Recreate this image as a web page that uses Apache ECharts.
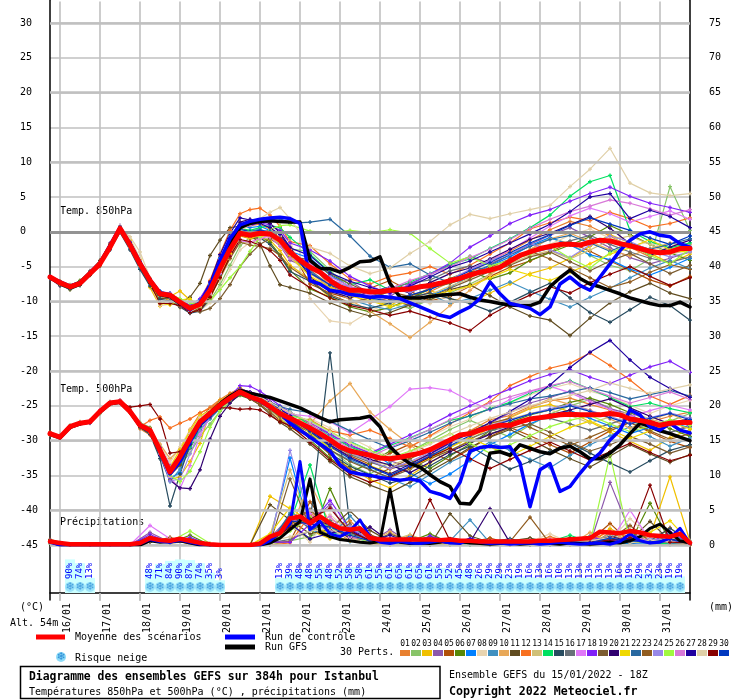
<!DOCTYPE html>
<html>
<head>
<meta charset="utf-8">
<script src="https://cdn.jsdelivr.net/npm/echarts@6/dist/echarts.min.js"></script>
<style>
html,body{margin:0;padding:0;background:#fff;}
#chart{width:740px;height:700px;}
</style>
</head>
<body>
<div id="chart"></div>
<script>
// GEFS ensemble, Istanbul, run 15/01/2022 18Z, 6h steps 0..384h
var dayLabels = ['16/01','17/01','18/01','19/01','20/01','21/01','22/01','23/01','24/01','25/01','26/01','27/01','28/01','29/01','30/01','31/01'];
var memberColors = ['#e88030','#88c468','#f0c000','#8c58ac','#b05008','#588808','#0080ff','#e8d4b0','#4090c0','#e8a858',
  '#604c20','#f87020','#d0c078','#00e060','#284c60','#687078','#e078f8','#8020f8','#7c5c30','#300070',
  '#f0d800','#2868a0','#905c20','#9888e8','#a0f840','#d878d8','#2000a0','#e0d0a8','#880000','#0038c0'];
var thickLevels = [-45,-40,-30,-20,-10,10,20,30];

// thick lines, every 6h (65 values)
var mean850 = [-6.5,-7.3,-7.9,-7.4,-6.0,-4.6,-2.2,0.5,-1.9,-4.6,-7.0,-8.9,-9.1,-10.1,-11.0,-10.4,-8.4,-5.3,-2.5,-0.2,-0.5,-0.2,-0.3,-1.2,-2.9,-4.1,-5.1,-5.8,-7.0,-7.9,-8.4,-8.4,-8.6,-8.6,-8.4,-8.3,-8.2,-7.9,-7.7,-7.4,-7.0,-6.7,-6.2,-5.8,-5.5,-5.1,-4.2,-3.4,-2.9,-2.4,-2.1,-1.8,-1.8,-1.9,-1.5,-1.2,-1.3,-1.7,-2.0,-2.4,-2.8,-3.0,-2.9,-2.4,-2.4];
var ctrl850 = [-6.5,-7.2,-7.8,-7.3,-5.9,-4.5,-2.0,0.6,-1.7,-4.4,-6.9,-8.8,-9.2,-10.2,-11.2,-10.2,-7.8,-4.2,-1.0,1.0,1.5,1.8,2.0,2.1,1.9,1.2,-7.0,-7.5,-8.4,-8.6,-9.0,-9.2,-9.4,-9.3,-9.4,-9.6,-10.2,-10.8,-11.4,-12.0,-12.3,-11.5,-10.8,-9.6,-7.2,-8.9,-10.3,-10.6,-11.0,-11.9,-10.8,-7.5,-6.5,-7.7,-8.4,-6.5,-4.6,-2.7,-1.2,-0.3,0.0,-0.5,-0.7,-1.7,-2.2];
var gfs850 = [-6.6,-7.4,-8.0,-7.5,-6.1,-4.6,-2.1,0.4,-1.9,-4.7,-7.1,-9.0,-9.3,-10.3,-11.1,-10.3,-8.1,-4.8,-1.8,0.6,1.2,1.5,1.6,1.5,1.4,1.4,-4.1,-5.3,-5.3,-5.8,-5.1,-4.3,-4.2,-3.6,-7.4,-9.4,-9.5,-9.5,-9.3,-9.1,-9.0,-8.9,-9.4,-9.8,-10.0,-10.3,-10.5,-10.6,-10.6,-10.1,-7.9,-6.6,-5.5,-6.7,-7.5,-7.9,-8.4,-8.9,-9.5,-9.9,-10.3,-10.6,-10.6,-10.1,-10.8];
var mean500 = [-29.0,-29.5,-28.0,-27.5,-27.3,-25.8,-24.6,-24.4,-25.8,-27.8,-28.5,-31.4,-34.5,-32.3,-29.7,-27.3,-26.1,-24.9,-23.9,-23.0,-23.7,-24.2,-25.1,-26.1,-26.8,-27.5,-28.2,-29.0,-29.9,-30.9,-31.5,-31.8,-32.1,-32.5,-32.6,-32.4,-32.1,-31.8,-31.3,-30.6,-29.9,-29.2,-29.0,-28.5,-28.1,-27.8,-27.8,-27.3,-26.9,-26.7,-26.5,-26.3,-26.2,-26.3,-26.3,-26.3,-26.1,-26.3,-26.9,-27.1,-27.4,-27.8,-27.5,-27.4,-27.4];
var ctrl500 = [-29.0,-29.5,-28.0,-27.5,-27.3,-25.8,-24.6,-24.4,-25.8,-27.8,-28.5,-31.4,-34.8,-33.0,-30.2,-27.6,-26.3,-25.0,-24.0,-23.1,-23.8,-24.3,-25.2,-26.0,-27.5,-28.5,-29.5,-30.5,-31.5,-33.5,-34.5,-34.8,-35.0,-35.3,-35.5,-35.7,-35.5,-35.8,-37.3,-37.7,-38.3,-36.0,-31.5,-31.0,-30.8,-31.0,-30.9,-33.2,-39.5,-34.2,-33.3,-37.3,-36.6,-34.7,-33.0,-31.8,-29.9,-28.5,-25.6,-26.3,-28.0,-28.5,-27.5,-28.5,-28.9];
var gfs500 = [-29.1,-29.6,-28.1,-27.6,-27.3,-25.9,-24.7,-24.5,-25.9,-27.9,-28.6,-31.5,-34.6,-32.4,-29.8,-27.3,-26.0,-24.7,-23.6,-22.8,-23.2,-23.5,-23.8,-24.3,-24.8,-25.3,-26.0,-26.7,-27.3,-27.0,-26.9,-26.8,-26.5,-28.0,-30.9,-32.3,-33.3,-33.8,-34.9,-35.9,-36.6,-39.0,-39.1,-37.1,-31.8,-31.6,-32.1,-30.6,-31.1,-31.6,-31.9,-31.1,-30.8,-31.6,-32.6,-32.6,-31.8,-30.6,-29.0,-27.5,-28.0,-28.6,-29.0,-29.5,-30.0];
var meanPrecip = [0.5,0.3,0.1,0.1,0.1,0.1,0.1,0.1,0.1,0.3,1.0,0.7,0.6,0.9,0.6,0.3,0.1,0.0,0.0,0.0,0.0,0.2,1.2,1.7,3.8,4.1,3.1,4.1,3.1,2.4,2.2,2.4,1.0,0.8,0.8,0.8,0.8,0.8,0.8,0.7,0.8,0.6,0.6,0.5,0.5,0.5,0.5,0.5,0.5,0.6,0.6,0.7,0.8,0.9,1.0,1.9,1.8,1.7,2.0,1.8,1.4,1.3,1.2,1.6,0.3];
var ctrlPrecip = [0.4,0,0,0,0,0,0,0,0,0.2,0.8,0.5,0.4,0.7,0.4,0.1,0,0,0,0,0,0,0.6,1.8,3.0,12.0,2.2,3.4,1.6,1.2,2.0,3.6,1.2,0.4,0.2,0.5,0.3,0.2,0.4,0.6,0.3,0.2,0.9,0.4,0.2,0.3,0.1,0.2,0.3,0.1,0.2,0.4,0.2,0.1,0.2,0.3,0.1,0.5,1.6,0.6,0.3,0.4,1.0,2.4,0.2];
var gfsPrecip = [0.5,0,0,0,0,0,0,0,0,0,0.6,0.4,0.5,0.6,0.3,0,0,0,0,0,0,0,0.3,1.0,2.2,3.4,9.5,1.8,1.2,0.8,0.6,0.4,0.3,0.5,8.0,0.4,0.2,0.3,0.2,0.4,0.9,0.5,0.3,0.2,0.1,0.2,0.3,0.1,0.2,0.4,0.2,0.1,0.3,0.2,0.1,0.2,0.4,0.3,0.6,1.2,2.4,3.0,1.8,0.6,0.3];

// snow risk (%) per 6h step
var snowRisk = [null,null,90,74,13,null,null,null,null,null,48,71,84,90,87,74,35,3,null,null,null,null,null,13,39,48,48,55,48,52,58,58,61,55,61,65,61,65,61,55,52,45,48,26,29,29,23,19,16,13,16,10,13,13,13,13,13,16,19,29,32,23,19,19,null];

// members 850hPa: 6h steps 0..144h, then 12h steps 156..384h
var t850Early = [
[-6.4,-7.6,-8.1,-7.5,-6.2,-4.8,-2.3,0.6,-1.7,-4.4,-6.8,-8.7,-9.0,-10.3,-11.3,-10.6,-8.0,-4.6,-1.7,0.6,0.9,1.1,0.4,-0.9,-3.2],
[-6.6,-7.2,-7.6,-7.2,-5.8,-4.4,-2.0,0.2,-2.1,-4.9,-7.3,-9.1,-9.5,-10.7,-11.5,-11.2,-9.9,-7.6,-4.8,-2.0,-0.8,-0.4,-0.1,-0.7,-2.5],
[-6.5,-7.4,-8.3,-7.6,-5.9,-4.3,-1.7,0.4,-1.2,-3.9,-8.0,-10.7,-9.3,-8.5,-9.8,-10.5,-9.0,-6.2,-3.3,-0.6,-1.0,-0.9,-1.2,-2.7,-4.8],
[-6.7,-7.8,-7.7,-7.1,-5.6,-4.2,-1.6,0.9,-1.4,-4.2,-6.9,-8.6,-9.2,-9.9,-10.8,-10.0,-7.6,-4.0,-1.5,0.2,-0.2,0.3,-0.6,-2.0,-4.1],
[-6.4,-7.1,-8.0,-7.3,-6.1,-4.9,-2.4,0.3,-2.0,-4.8,-7.1,-8.8,-8.9,-10.0,-11.1,-10.9,-9.3,-6.4,-3.0,-0.5,-0.9,-0.1,0.2,-0.8,-2.4],
[-6.3,-7.3,-7.8,-7.0,-5.7,-4.5,-2.1,0.5,-1.9,-4.7,-7.2,-9.0,-9.3,-10.5,-11.6,-11.0,-8.8,-5.5,-2.2,0.1,-0.4,-0.6,-1.5,-3.3,-5.5],
[-6.5,-7.5,-7.9,-7.2,-5.9,-4.6,-2.2,0.4,-1.6,-4.3,-6.7,-8.5,-9.0,-9.8,-10.6,-9.7,-7.5,-3.8,-0.7,0.9,0.6,0.8,0.2,-1.0,-2.8],
[-6.6,-7.4,-8.1,-7.5,-6.3,-4.7,-1.9,0.8,-0.9,-3.8,-7.5,-10.6,-10.4,-10.3,-10.9,-11.3,-10.2,-8.1,-5.4,-2.6,-1.5,-0.9,-0.4,-0.6,-1.2],
[-6.4,-7.2,-8.0,-7.6,-6.2,-4.6,-2.5,0.1,-2.4,-5.2,-7.6,-9.3,-9.6,-10.6,-11.4,-10.5,-8.3,-5.0,-2.1,0.3,0.1,0.4,-0.2,-1.6,-3.6],
[-6.5,-7.3,-7.7,-7.3,-6.0,-4.4,-2.0,0.6,-1.8,-4.5,-7.0,-9.2,-9.8,-10.9,-11.2,-10.3,-8.6,-5.6,-2.7,-0.4,-0.9,-0.7,-0.5,-1.1,-2.6],
[-6.6,-7.7,-8.2,-7.4,-5.8,-4.1,-1.8,0.7,-1.6,-4.4,-7.4,-9.6,-9.5,-10.2,-9.4,-7.4,-3.4,-1.2,0.6,0.8,-0.3,-1.8,-4.9,-7.6,-8.0],
[-6.4,-7.3,-7.9,-7.5,-6.1,-4.7,-2.1,0.5,-1.7,-4.6,-6.9,-8.8,-9.2,-10.2,-11.0,-9.9,-7.0,-3.2,0.2,2.6,3.2,3.4,2.4,0.8,-1.4],
[-6.5,-7.4,-8.0,-7.3,-6.0,-4.5,-2.3,0.2,-2.2,-4.9,-7.1,-9.0,-9.4,-10.4,-11.2,-10.8,-9.1,-6.8,-3.9,-1.4,-1.6,-1.1,-0.9,-1.8,-3.7],
[-6.3,-7.2,-7.8,-7.4,-6.1,-4.6,-2.0,0.4,-1.9,-4.6,-7.0,-8.7,-9.0,-10.0,-10.8,-10.2,-8.0,-4.7,-1.6,0.5,0.2,0.6,0.9,0.6,-0.8],
[-6.7,-7.6,-8.3,-7.7,-6.2,-4.8,-2.6,-0.1,-2.6,-5.4,-7.8,-9.7,-9.9,-10.8,-11.7,-11.4,-9.6,-6.2,-2.8,-0.3,-0.8,-0.9,-1.8,-3.5,-5.7],
[-6.5,-7.3,-7.9,-7.4,-6.0,-4.5,-2.1,0.4,-1.8,-4.5,-7.0,-8.8,-9.0,-10.1,-10.9,-10.3,-8.2,-5.1,-2.3,-0.1,-0.4,-0.2,-0.4,-1.3,-3.0],
[-6.4,-7.4,-7.8,-7.2,-5.9,-4.4,-2.0,0.5,-1.7,-4.4,-6.9,-8.9,-9.3,-10.3,-11.1,-10.6,-8.9,-6.0,-3.4,-1.3,-1.5,-1.0,-0.6,-1.4,-3.1],
[-6.6,-7.5,-8.0,-7.5,-6.0,-4.6,-2.2,0.6,-1.6,-4.3,-6.8,-8.6,-8.8,-9.8,-10.6,-9.6,-7.3,-4.2,-1.3,0.7,0.9,1.3,1.0,0.2,-1.6],
[-6.5,-7.3,-8.0,-7.3,-5.9,-4.6,-2.1,0.3,-1.9,-4.7,-7.2,-9.0,-9.4,-10.5,-11.3,-11.5,-11.0,-9.6,-7.6,-5.0,-3.2,-1.8,-1.0,-1.9,-3.6],
[-6.4,-7.2,-7.8,-7.4,-6.1,-4.7,-2.2,0.5,-1.8,-4.6,-7.1,-9.0,-9.3,-10.3,-11.2,-10.4,-7.9,-4.1,-0.9,1.4,1.8,1.6,1.2,-0.1,-2.2],
[-6.6,-7.5,-8.1,-7.5,-6.0,-4.5,-2.0,0.4,-1.8,-4.5,-7.3,-10.2,-10.5,-9.8,-9.6,-10.8,-9.5,-6.6,-3.1,-0.4,-0.9,-0.6,-0.7,-1.6,-3.4],
[-6.5,-7.3,-7.9,-7.2,-5.8,-4.4,-2.0,0.6,-1.6,-4.3,-6.8,-8.6,-8.9,-10.0,-10.7,-9.9,-7.7,-4.4,-1.3,0.9,1.2,1.4,1.8,1.9,1.2],
[-6.4,-7.4,-8.0,-7.6,-6.2,-4.8,-2.4,0.2,-2.0,-4.8,-7.2,-9.1,-9.4,-10.6,-11.4,-11.0,-9.3,-6.5,-3.8,-1.5,-1.9,-2.1,-2.4,-3.4,-5.1],
[-6.5,-7.3,-7.8,-7.3,-5.9,-4.5,-2.1,0.5,-1.8,-4.6,-7.0,-8.9,-9.1,-10.1,-11.0,-10.5,-8.6,-5.5,-2.6,-0.3,-0.6,-0.3,-0.2,-1.0,-2.7],
[-6.6,-7.4,-8.0,-7.5,-6.1,-4.6,-2.1,0.4,-1.9,-4.7,-7.1,-8.9,-9.0,-9.6,-10.2,-10.6,-9.9,-8.3,-6.6,-5.0,-2.8,-0.8,0.3,0.9,1.0],
[-6.5,-7.4,-7.9,-7.3,-6.0,-4.5,-2.0,0.6,-1.7,-4.5,-6.9,-8.8,-9.2,-10.2,-11.1,-10.4,-8.5,-5.4,-2.4,-0.1,-0.5,-0.4,-0.8,-2.0,-3.8],
[-6.4,-7.3,-8.0,-7.5,-6.1,-4.6,-2.2,0.4,-1.9,-4.6,-7.0,-8.9,-9.2,-10.3,-11.3,-10.1,-7.2,-3.3,-0.2,2.0,1.7,1.2,0.6,-0.4,-2.3],
[-6.5,-7.3,-7.9,-7.4,-6.0,-4.6,-2.1,0.5,-0.7,-2.9,-6.6,-8.9,-9.4,-10.6,-11.5,-10.7,-8.7,-5.7,-2.6,0.1,1.0,1.9,2.8,3.5,1.9],
[-6.5,-7.4,-8.0,-7.4,-6.0,-4.6,-2.2,0.4,-1.8,-4.6,-7.4,-10.3,-10.3,-10.6,-11.6,-11.2,-9.4,-6.6,-3.5,-1.1,-1.4,-1.9,-2.7,-4.1,-6.2],
[-6.5,-7.3,-7.9,-7.3,-5.9,-4.5,-2.0,0.6,-1.6,-4.4,-6.8,-8.7,-9.1,-10.2,-11.1,-10.3,-8.2,-5.0,-2.0,0.4,0.0,0.2,0.0,-1.0,-3.0]];
var t850Late = [
[-4.5,-7.8,-9.0,-10.2,-9.5,-9.8,-8.6,-7.2,-5.9,-4.1,-2.8,-1.2,0.3,1.5,0.8,-0.6,-2.2,-3.6,-2.5,-1.8],
[-2.8,-5.5,-8.2,-9.6,-10.4,-11.0,-9.7,-8.8,-7.5,-6.1,-4.0,-2.6,-0.9,-1.7,-3.4,-4.8,-5.6,-3.9,6.5,0.2],
[-6.8,-9.5,-10.3,-9.8,-10.6,-9.1,-8.4,-9.6,-10.2,-8.8,-7.5,-6.0,-5.2,-3.8,-2.1,-0.4,-1.6,-3.1,-4.5,-3.2],
[-5.2,-6.6,-7.1,-8.9,-9.3,-7.4,-6.2,-4.8,-3.5,-4.6,-3.3,-1.8,-0.5,0.6,-0.8,-2.3,-3.7,-4.6,-3.8,-2.9],
[-7.5,-8.8,-9.6,-8.1,-7.0,-8.5,-9.9,-9.3,-7.8,-6.4,-5.1,-4.2,-2.9,-1.5,-2.8,-4.2,-5.5,-6.9,-7.8,-6.4],
[-8.2,-9.4,-10.8,-11.5,-10.9,-9.6,-8.2,-6.7,-5.6,-6.8,-5.9,-4.1,-3.0,-1.9,-0.7,0.9,-0.4,-1.8,-3.0,-4.1],
[-3.8,-6.2,-7.9,-8.6,-9.4,-10.1,-9.2,-8.0,-6.3,-4.9,-3.6,-2.0,-0.8,-1.9,-3.3,-4.0,-5.4,-6.2,-5.1,-3.8],
[-9.6,-12.8,-13.2,-11.4,-10.2,-9.6,-10.3,-9.1,-7.7,-6.2,-4.4,-3.0,-1.8,-0.5,0.4,-0.9,-2.0,-1.5,-2.8,-1.9],
[-5.6,-8.1,-9.7,-10.6,-11.2,-10.4,-9.0,-10.3,-9.6,-8.4,-7.2,-8.5,-9.7,-10.8,-9.4,-8.1,-6.6,-5.2,-4.1,-5.3],
[-6.0,-7.9,-9.8,-11.4,-13.2,-15.2,-13.0,-10.6,-8.4,-6.1,-4.3,-2.5,-1.0,-0.2,-1.4,-2.6,-3.5,-2.4,-1.6,-2.2],
[-8.8,-10.2,-11.3,-12.1,-11.6,-10.5,-9.8,-8.3,-7.6,-9.2,-10.8,-12.1,-12.7,-14.9,-12.4,-10.2,-8.6,-7.4,-8.8,-9.6],
[-2.0,-4.6,-6.8,-7.5,-6.4,-5.9,-5.0,-6.1,-4.8,-3.2,-1.6,0.4,1.3,2.1,1.6,2.8,1.9,0.7,1.2,2.0],
[-6.3,-8.4,-9.1,-8.2,-9.6,-10.3,-9.0,-7.8,-6.7,-5.0,-4.6,-3.4,-2.7,-3.9,-2.6,-1.2,-0.6,-1.8,-3.2,-2.6],
[-3.2,-5.8,-7.6,-6.9,-8.4,-7.2,-6.0,-4.7,-3.9,-2.4,-1.0,0.6,2.4,5.1,7.2,8.1,0.2,-1.4,-2.3,-1.6],
[-7.1,-9.2,-10.4,-11.0,-10.2,-9.4,-8.8,-9.6,-10.3,-11.4,-10.1,-8.7,-7.4,-9.5,-11.6,-13.0,-11.2,-9.4,-10.6,-12.7],
[-5.5,-7.7,-8.6,-9.3,-8.0,-7.4,-6.9,-5.6,-4.9,-5.6,-4.2,-3.1,-2.4,-1.3,-0.5,-1.8,-2.9,-3.8,-4.4,-3.6],
[-4.6,-6.9,-8.3,-9.1,-8.5,-7.6,-8.2,-7.0,-5.5,-4.2,-2.6,-0.9,0.8,2.3,3.4,2.6,1.4,2.2,3.0,1.8],
[-2.6,-4.2,-6.4,-7.8,-8.9,-7.6,-6.1,-4.5,-2.2,-0.6,1.2,2.4,3.2,4.4,5.5,6.4,5.1,4.1,3.5,2.8],
[-4.0,-6.1,-7.5,-8.8,-9.7,-10.6,-9.4,-8.1,-6.9,-5.7,-4.8,-3.6,-2.9,-4.3,-5.6,-4.2,-3.1,-4.6,-6.0,-4.8],
[-6.5,-8.6,-9.4,-8.7,-7.9,-8.8,-7.3,-6.0,-5.2,-3.9,-2.5,-1.1,-0.2,1.0,2.2,0.5,-1.7,-3.4,-2.2,-1.2],
[-6.4,-8.0,-9.2,-9.9,-10.8,-10.0,-9.2,-8.5,-7.8,-6.6,-5.4,-6.2,-7.0,-5.8,-4.6,-3.2,-2.3,-1.1,-2.6,-3.0],
[1.4,1.8,-0.6,-3.5,-5.1,-4.6,-6.2,-7.3,-6.0,-4.8,-3.3,-2.1,-1.1,-0.5,-1.6,-2.8,-1.6,-2.5,-1.8,-1.0],
[-7.0,-9.0,-10.2,-9.5,-8.6,-9.3,-8.1,-7.4,-6.5,-5.1,-3.9,-2.8,-3.9,-5.2,-6.6,-8.0,-7.2,-5.8,-4.7,-5.4],
[-5.0,-6.8,-8.0,-8.9,-7.9,-8.7,-7.6,-6.9,-5.4,-4.1,-3.2,-1.7,-2.6,-3.7,-1.9,-0.6,-1.4,-2.7,-3.6,-2.9],
[0.1,-0.2,0.2,-0.1,0.3,-0.2,-2.4,-4.5,-3.6,-4.9,-4.1,-3.2,-2.0,-3.8,-5.2,-3.0,-1.8,-3.4,-4.6,-2.5],
[-4.8,-6.5,-7.8,-9.1,-8.2,-7.0,-6.1,-5.0,-3.7,-2.5,-1.1,0.5,1.8,2.9,3.7,4.6,4.1,3.3,2.4,3.2],
[-3.4,-5.9,-7.1,-8.0,-8.7,-7.8,-6.5,-5.1,-4.2,-2.9,-1.6,-0.3,1.1,2.9,5.0,5.5,1.9,3.1,2.2,0.6],
[-2.2,-3.1,-4.9,-6.0,-5.2,-3.1,-1.4,1.0,2.5,1.9,2.6,3.2,3.8,6.5,9.0,12.0,7.0,5.6,5.2,5.5],
[-8.0,-9.5,-10.6,-11.2,-12.0,-11.4,-12.3,-13.1,-14.2,-12.0,-10.4,-9.1,-7.9,-8.8,-7.3,-6.1,-5.0,-6.4,-7.7,-6.6],
[-5.9,-7.6,-8.8,-9.5,-10.0,-9.1,-8.3,-7.0,-5.6,-4.4,-3.0,-1.6,-0.4,0.9,2.0,1.1,0.2,-0.9,-1.8,-0.6]];

// members 500hPa: same layout
var t500Early = [
[-29.1,-29.7,-28.2,-27.4,-27.1,-25.6,-24.8,-24.2,-26.0,-28.3,-29.2,-32.0,-35.1,-31.6,-28.4,-26.1,-25.2,-24.1,-23.2,-22.5,-23.1,-23.6,-24.5,-25.4,-26.0],
[-28.9,-29.4,-27.8,-27.6,-27.5,-26.1,-24.5,-24.6,-25.5,-27.4,-28.1,-30.8,-33.9,-33.5,-31.8,-29.4,-27.6,-25.8,-24.5,-23.4,-23.9,-24.5,-25.6,-26.8,-27.9],
[-29.2,-29.6,-28.1,-27.3,-27.2,-25.7,-24.7,-24.3,-25.9,-27.9,-28.8,-31.9,-35.6,-35.2,-33.0,-30.4,-25.9,-24.2,-23.5,-22.4,-23.2,-24.0,-25.3,-26.9,-28.1],
[-29.0,-29.4,-28.0,-27.6,-27.4,-25.9,-24.5,-24.5,-25.7,-27.7,-28.4,-31.1,-34.2,-32.8,-30.2,-27.6,-26.3,-25.0,-24.0,-23.2,-23.6,-24.1,-25.0,-25.9,-26.6],
[-28.8,-29.3,-27.9,-27.4,-27.2,-25.6,-24.4,-24.2,-25.6,-27.6,-28.2,-31.5,-34.8,-31.9,-29.0,-26.6,-25.5,-24.4,-23.4,-22.7,-23.5,-24.3,-25.4,-26.5,-27.3],
[-29.1,-29.6,-28.1,-27.5,-27.3,-25.8,-24.7,-24.5,-25.9,-27.9,-28.6,-31.2,-34.0,-33.3,-31.1,-28.5,-26.8,-25.3,-24.3,-23.5,-24.0,-24.4,-25.2,-26.0,-26.5],
[-29.0,-29.5,-28.0,-27.5,-27.3,-25.8,-24.6,-24.4,-25.8,-27.8,-28.4,-31.8,-35.4,-34.6,-29.6,-26.8,-25.8,-24.6,-23.7,-22.9,-23.4,-23.9,-24.6,-25.6,-26.3],
[-28.9,-29.4,-27.9,-27.4,-27.2,-25.7,-24.5,-24.3,-25.7,-27.7,-28.5,-30.6,-33.2,-30.9,-28.5,-26.6,-25.8,-24.8,-23.8,-22.8,-23.5,-24.3,-25.5,-26.7,-27.6],
[-29.1,-29.6,-28.1,-27.6,-27.4,-25.9,-24.7,-24.5,-25.9,-28.0,-29.0,-32.2,-35.9,-34.1,-31.0,-28.4,-26.9,-25.4,-24.2,-23.3,-23.9,-24.2,-24.8,-25.6,-26.2],
[-29.0,-29.5,-28.0,-27.5,-27.3,-25.8,-24.6,-24.4,-25.8,-27.8,-28.6,-30.5,-32.6,-31.2,-28.9,-26.8,-25.9,-24.7,-23.6,-22.6,-23.3,-23.8,-24.7,-25.8,-26.6],
[-29.0,-29.5,-28.0,-27.5,-27.3,-25.7,-24.5,-24.4,-25.8,-27.8,-28.6,-31.6,-35.0,-33.5,-30.6,-27.9,-26.4,-25.1,-24.1,-23.2,-24.0,-24.9,-26.2,-27.4,-28.3],
[-29.0,-29.6,-28.0,-27.5,-27.3,-25.8,-24.6,-24.4,-26.0,-28.0,-27.1,-26.6,-28.2,-27.5,-26.9,-26.0,-25.4,-24.3,-23.5,-22.8,-23.4,-24.0,-25.0,-26.1,-26.9],
[-29.1,-29.5,-28.1,-27.5,-27.3,-25.8,-24.6,-24.4,-25.7,-27.6,-28.3,-31.3,-34.6,-32.5,-30.0,-27.6,-26.3,-25.1,-24.0,-23.1,-23.7,-24.2,-25.0,-26.0,-26.7],
[-29.0,-29.4,-27.9,-27.4,-27.2,-25.7,-24.5,-24.3,-25.7,-27.6,-28.3,-31.6,-34.9,-33.0,-30.8,-28.1,-26.5,-25.2,-24.0,-23.0,-23.5,-23.8,-24.4,-25.2,-25.8],
[-29.1,-29.6,-28.1,-27.6,-27.4,-25.9,-24.7,-24.5,-25.9,-28.1,-29.1,-32.6,-39.4,-34.8,-30.6,-27.4,-25.8,-24.5,-23.6,-23.0,-23.6,-24.2,-25.1,-26.2,-27.0],
[-29.0,-29.5,-28.0,-27.5,-27.3,-25.8,-24.6,-24.4,-25.8,-27.8,-28.5,-31.4,-34.3,-32.0,-29.5,-27.2,-26.0,-24.8,-23.8,-23.0,-23.6,-24.1,-25.0,-26.0,-26.7],
[-28.9,-29.4,-27.9,-27.4,-27.1,-25.6,-24.5,-24.2,-25.6,-27.6,-28.4,-31.7,-35.3,-36.9,-33.6,-29.2,-26.6,-25.0,-23.8,-22.6,-23.0,-23.4,-24.3,-25.4,-26.2],
[-29.1,-29.6,-28.1,-27.6,-27.4,-25.9,-24.7,-24.5,-25.9,-27.9,-28.6,-31.0,-33.6,-32.2,-29.9,-27.5,-26.2,-24.9,-23.7,-22.1,-22.2,-22.9,-23.9,-25.0,-25.9],
[-29.0,-29.5,-28.0,-27.5,-27.3,-25.8,-24.6,-24.4,-25.8,-27.8,-28.5,-31.3,-34.4,-32.4,-29.8,-27.4,-26.2,-25.0,-24.0,-23.2,-23.9,-24.5,-25.5,-26.6,-27.4],
[-28.9,-29.5,-28.0,-27.5,-27.3,-25.8,-24.6,-24.4,-25.8,-27.8,-28.7,-32.1,-35.7,-36.8,-36.9,-34.2,-29.8,-26.5,-24.6,-23.3,-23.8,-24.2,-25.0,-25.9,-26.6],
[-29.0,-29.4,-28.0,-27.5,-27.2,-25.8,-24.6,-24.4,-25.8,-27.8,-28.4,-31.2,-33.8,-31.3,-28.6,-26.4,-25.7,-24.5,-23.5,-22.9,-23.3,-23.6,-24.8,-25.9,-26.5],
[-29.1,-29.5,-28.0,-27.5,-27.3,-25.8,-24.6,-24.4,-25.8,-27.8,-28.6,-31.5,-34.7,-32.6,-30.0,-27.5,-26.2,-24.9,-23.8,-22.9,-23.4,-23.9,-24.5,-25.1,-25.5],
[-29.0,-29.5,-28.1,-27.5,-27.3,-25.8,-24.6,-24.4,-25.8,-27.8,-28.5,-31.4,-34.5,-32.1,-29.5,-27.1,-26.0,-24.9,-24.0,-23.3,-24.0,-24.8,-25.9,-27.1,-28.0],
[-29.0,-29.5,-28.0,-27.5,-27.3,-25.8,-24.6,-24.4,-25.8,-27.8,-28.6,-31.9,-35.8,-35.5,-31.9,-28.6,-26.6,-25.0,-23.9,-22.8,-23.4,-23.9,-24.9,-25.8,-26.5],
[-29.0,-29.5,-28.0,-27.5,-27.3,-25.8,-24.6,-24.4,-25.8,-27.8,-28.5,-31.6,-35.0,-35.9,-34.4,-31.6,-28.1,-25.7,-24.1,-23.1,-23.6,-24.0,-24.8,-25.7,-26.4],
[-29.0,-29.5,-28.0,-27.5,-27.3,-25.8,-24.6,-24.4,-25.8,-27.8,-28.5,-31.3,-34.3,-32.1,-29.6,-27.3,-26.1,-24.8,-23.7,-22.7,-23.3,-23.9,-24.9,-26.0,-26.9],
[-29.0,-29.5,-28.0,-27.5,-27.3,-25.8,-24.6,-24.4,-25.8,-27.8,-28.5,-31.5,-34.6,-32.9,-30.5,-27.9,-26.6,-25.2,-24.0,-22.6,-23.0,-23.5,-24.4,-25.5,-26.4],
[-29.0,-29.5,-28.0,-27.5,-27.3,-25.8,-24.6,-24.4,-25.8,-27.8,-28.4,-31.2,-34.1,-31.8,-29.0,-26.7,-25.7,-24.6,-23.6,-22.8,-23.2,-23.7,-24.5,-25.3,-25.9],
[-29.0,-29.5,-28.0,-27.5,-27.3,-25.8,-24.6,-24.4,-25.2,-25.0,-24.8,-26.9,-31.8,-31.6,-29.6,-27.6,-26.4,-25.3,-25.3,-25.5,-25.4,-25.6,-26.4,-27.3,-27.8],
[-29.0,-29.5,-28.0,-27.5,-27.3,-25.8,-24.6,-24.4,-25.8,-27.8,-28.5,-31.4,-34.5,-32.4,-29.8,-27.4,-26.2,-24.9,-23.9,-23.0,-23.7,-24.2,-25.1,-26.1,-26.8]];
var t500Late = [
[-27.5,-29.8,-31.4,-33.0,-34.1,-33.2,-31.9,-30.1,-28.6,-27.0,-26.4,-25.1,-24.3,-23.9,-24.8,-25.6,-26.8,-27.3,-26.5,-25.9],
[-28.6,-31.2,-33.5,-34.8,-33.1,-31.6,-30.0,-28.4,-27.1,-28.3,-29.5,-27.8,-26.2,-25.0,-24.1,-25.3,-27.0,-28.6,-27.2,-26.1],
[-29.4,-31.9,-34.0,-35.6,-36.8,-35.0,-33.2,-31.5,-29.9,-28.1,-26.7,-25.4,-24.8,-25.9,-27.3,-28.8,-30.1,-31.4,-29.6,-28.4],
[-27.9,-29.0,-30.8,-31.7,-32.9,-33.8,-32.0,-30.4,-28.8,-27.5,-26.0,-24.6,-23.8,-22.9,-24.1,-25.4,-26.2,-27.8,-28.9,-27.7],
[-28.8,-30.7,-32.2,-33.4,-31.8,-30.5,-31.6,-32.9,-31.2,-29.4,-28.1,-29.3,-30.6,-31.8,-30.2,-28.6,-27.4,-28.8,-30.1,-31.0],
[-29.9,-32.5,-34.6,-33.2,-31.5,-32.8,-34.0,-32.2,-30.5,-28.6,-27.4,-26.3,-25.6,-24.5,-23.9,-24.8,-26.0,-27.1,-28.3,-29.4],
[-27.2,-28.9,-30.1,-31.5,-33.4,-34.7,-36.2,-34.8,-32.9,-30.6,-29.1,-27.6,-26.4,-25.7,-26.8,-27.9,-29.0,-28.1,-27.3,-28.2],
[-26.8,-28.2,-29.6,-31.0,-32.3,-30.9,-29.4,-28.0,-26.9,-25.3,-24.6,-23.4,-22.5,-21.8,-22.9,-23.7,-24.9,-26.1,-25.0,-24.2],
[-29.0,-31.4,-32.8,-34.1,-35.5,-36.6,-34.9,-33.1,-31.8,-30.2,-31.4,-32.7,-33.9,-32.1,-30.6,-29.3,-28.0,-29.4,-30.8,-29.6],
[-27.6,-24.3,-21.8,-25.9,-28.4,-30.6,-32.8,-31.0,-29.5,-28.0,-26.6,-25.3,-24.0,-24.8,-25.6,-26.9,-28.2,-27.0,-26.1,-27.5],
[-30.5,-33.0,-35.2,-36.4,-37.5,-36.0,-34.4,-32.8,-31.0,-29.5,-28.4,-29.8,-31.3,-32.6,-33.8,-32.2,-30.6,-31.9,-33.1,-32.0],
[-27.0,-28.6,-29.2,-28.5,-29.7,-30.9,-29.3,-27.6,-26.0,-24.4,-22.1,-20.8,-19.6,-18.9,-17.4,-19.2,-21.3,-23.6,-24.8,-23.5],
[-28.4,-30.2,-31.9,-32.8,-33.6,-32.5,-31.2,-29.8,-28.7,-27.6,-26.9,-26.1,-25.6,-26.4,-27.5,-26.6,-25.8,-26.9,-27.8,-27.1],
[-27.8,-29.3,-30.9,-32.0,-30.7,-29.6,-28.4,-27.1,-26.5,-25.4,-24.5,-23.2,-22.3,-21.4,-22.6,-23.8,-25.1,-24.6,-25.4,-26.0],
[-29.6,-31.8,-33.7,-34.9,-36.1,-35.3,-33.6,-32.0,-30.8,-32.5,-34.1,-33.0,-31.6,-30.3,-31.8,-33.2,-34.5,-32.9,-31.4,-30.6],
[-28.3,-30.4,-32.0,-33.1,-34.0,-33.5,-32.3,-30.8,-29.7,-28.6,-27.9,-27.1,-26.8,-27.6,-28.5,-27.6,-26.7,-27.9,-28.8,-28.0],
[-26.5,-27.3,-28.9,-27.0,-25.1,-22.6,-22.4,-22.8,-24.3,-25.6,-24.1,-23.0,-22.2,-23.1,-24.4,-25.5,-26.6,-25.7,-24.9,-25.6],
[-27.4,-29.1,-30.6,-31.8,-30.5,-29.2,-27.8,-26.3,-25.0,-23.7,-22.6,-21.4,-20.5,-19.8,-20.9,-21.8,-20.6,-19.4,-18.6,-20.2],
[-29.2,-31.3,-33.0,-34.2,-35.3,-34.1,-32.6,-31.4,-30.1,-29.0,-28.3,-27.6,-28.8,-30.2,-31.5,-30.6,-29.4,-30.5,-31.8,-30.9],
[-28.1,-29.9,-31.6,-32.7,-33.5,-34.6,-33.1,-31.6,-30.3,-29.1,-28.0,-27.0,-26.3,-25.6,-24.8,-24.0,-25.3,-26.5,-27.6,-26.8],
[-28.9,-31.0,-32.5,-33.6,-34.7,-33.9,-32.5,-31.0,-29.6,-30.9,-32.2,-30.8,-29.4,-28.1,-27.2,-28.4,-29.7,-28.6,-27.4,-28.3],
[-26.0,-27.2,-28.6,-29.9,-31.1,-30.0,-28.8,-27.5,-26.4,-25.5,-24.7,-24.0,-23.6,-23.0,-22.4,-23.1,-24.0,-23.4,-22.8,-23.6],
[-29.5,-32.0,-34.1,-35.3,-34.0,-32.6,-31.3,-30.0,-28.7,-27.5,-26.8,-28.1,-29.4,-30.7,-29.5,-28.3,-27.4,-28.6,-29.8,-29.0],
[-28.0,-30.0,-31.7,-32.9,-34.0,-33.0,-31.7,-30.3,-29.0,-27.8,-27.0,-26.2,-25.4,-24.8,-25.7,-26.5,-27.5,-26.7,-26.0,-26.8],
[-27.1,-28.7,-30.2,-31.4,-32.5,-31.5,-30.3,-29.0,-30.4,-31.8,-30.6,-29.3,-28.0,-27.1,-26.4,-27.6,-28.7,-27.9,-27.0,-27.8],
[-27.7,-29.5,-31.1,-32.3,-31.0,-29.7,-28.4,-27.0,-25.8,-24.6,-23.7,-22.9,-22.1,-21.5,-22.6,-23.6,-24.6,-23.8,-23.0,-24.1],
[-28.5,-30.6,-32.4,-33.7,-34.8,-33.4,-31.9,-30.3,-28.9,-27.4,-25.8,-24.1,-22.0,-19.5,-17.3,-15.6,-18.4,-20.9,-22.5,-23.8],
[-27.3,-28.8,-30.4,-31.6,-32.7,-31.7,-30.5,-29.1,-27.9,-26.8,-25.9,-25.0,-24.2,-23.5,-22.8,-21.7,-22.5,-23.2,-22.6,-22.0],
[-30.2,-32.7,-34.8,-36.0,-35.2,-33.8,-32.4,-31.1,-32.6,-34.0,-32.7,-31.4,-30.2,-31.5,-32.8,-31.6,-30.4,-31.7,-32.9,-32.1],
[-28.7,-30.8,-32.6,-33.8,-35.0,-33.7,-32.2,-30.7,-29.3,-28.0,-27.1,-26.2,-25.6,-25.0,-25.8,-26.7,-27.6,-26.8,-26.1,-27.0]];

// members precipitation (mm), 12h steps 0..384h
var precipMembers = [
[0.4,0,0,0,0,0.8,0.5,0.3,0,0,0,0.5,2.6,4.8,1.9,3.5,0.6,0.2,1.4,0.3,0,0.6,0.2,0,0.3,1.2,0.4,0,1.8,0.6,0.3,2.5,0.2],
[0.6,0,0,0,0,1.2,0.4,0.9,0,0,0,0,0.6,1.2,2.6,0.8,0.3,0.6,0,1.1,0.4,0,0,0.2,0,0,0.5,1.3,0.3,0.9,0.2,0,0],
[0.5,0.1,0,0,0,0.6,0.8,0.2,0,0,0,7.0,5.2,2.1,0.9,1.6,0.2,0,0.4,0,0.2,0.7,0.3,0.1,0,0.6,0.8,0,2.4,0.6,1.2,9.8,0.5],
[0.3,0,0,0,0,1.8,0.4,0.5,0.1,0,0,1.0,4.1,3.3,5.8,1.2,0.4,2.2,0.3,0,0.6,0.2,0,0.4,0.2,0,0.3,0.1,9.0,1.9,0.3,0.2,0],
[0.8,0,0,0,0,0.4,1.1,0.2,0,0,0,0.3,0.5,6.2,2.4,0.7,1.5,0.3,0,0.5,0,0.4,1.0,0.2,0,0.3,0,0.6,3.1,0.4,0.5,0.2,0.2],
[0.2,0,0,0,0,0.9,0.3,1.4,0,0,0,0,2.8,0.8,8.1,2.0,0.6,0.2,0.5,1.6,0.3,0,0.2,0,0.4,0.1,1.1,0.4,0,0.3,6.0,0.5,0],
[0.4,0.1,0,0,0,1.1,0.6,0.4,0,0,0,0.8,12.5,2.2,1.4,0.5,0.9,0.2,1.2,0.4,0,0.3,0,0.8,0.2,0,0.4,1.0,0.6,0.2,0.4,0.7,0.1],
[0.5,0,0,0,0,0.7,0.2,0.6,0,0,0,0.4,3.0,0.4,4.4,1.8,0.3,0.5,0,0.2,0.4,0.6,0.2,0,0.5,1.6,0.3,0,0.6,3.8,1.1,0.3,0.6],
[0.6,0,0,0,0,0.5,0.9,0.3,0,0,0,0.2,4.6,3.6,1.2,4.2,1.0,0.4,0.8,0.2,0.6,3.6,0.3,0.5,0,0.2,0.7,0.2,1.5,0.4,0.2,1.6,0.3],
[0.3,0,0,0,0,1.0,0.5,0.8,0,0,0,0.6,2.2,8.9,3.1,1.0,0.5,1.9,0.2,0.7,0,0.2,0.5,0,0.2,0.4,0,1.8,0.3,2.2,0.9,0.4,0.2],
[0.7,0,0,0,0,0.6,0.3,0.5,0,0,0,5.8,3.6,1.6,2.3,4.9,2.1,0.5,0.3,0,4.5,1.3,0.4,0.6,1.0,0.3,0.6,0.2,0.5,0.7,3.4,0.6,0.4],
[0.4,0,0,0,0,0.8,0.7,0.2,0,0,0,0,0.3,4.3,2.7,0.6,0.2,0,0.6,0.3,0,0,0.2,0,0,0.3,0.2,0.6,2.0,1.2,0.4,0.2,0],
[0.5,0,0,0,0,1.3,0.4,0.6,0.1,0,0,1.4,10.8,2.9,3.6,2.8,0.4,0.6,1.5,0.4,0.2,0.5,0,0.3,0.6,0.2,0.4,0.3,1.4,0.5,0.8,1.1,0.3],
[0.3,0,0,0,0,0.7,0.5,0.9,0,0,0,0.2,3.2,11.5,1.8,1.3,0.3,0.2,0.3,0.8,0.5,0,0.4,0.2,0,0.5,1.4,0.4,0.2,0.6,0.3,0.2,0.2],
[0.6,0,0,0,0,0.9,0.6,0.4,0,0,0,0.5,4.0,3.1,27.6,2.6,1.2,0.9,0.4,1.2,0.6,0.8,0.5,0.9,0.3,0.6,0.2,0.8,0.4,1.0,0.6,2.4,0.5],
[0.4,0,0,0,0,0.6,0.4,0.7,0,0,0,0.3,0.8,2.0,3.5,1.6,0.5,0.3,0.6,0.2,0,0.4,0.6,0.1,0.3,0,0.5,0.3,0.9,0.4,1.6,0.5,0.2],
[0.5,0,0,0,0,2.8,0.9,0.5,0,0,0,0.6,3.9,4.5,2.1,1.1,0.7,0.2,0.9,0.5,0.3,0.6,0.2,0.4,0.2,0.8,0.3,0.5,0.4,5.0,0.7,0.3,0.4],
[0.6,0,0,0,0,1.5,0.3,1.1,0,0,0,0.4,0.4,3.0,6.4,2.3,0.8,0.4,0.2,1.3,0.4,0.2,0,0.6,0.3,0.4,0.2,1.2,0.5,0.8,0.3,1.9,0.3],
[0.3,0,0,0,0,0.5,0.8,0.3,0,0,0,0.2,9.5,2.6,1.6,3.0,0.4,1.6,0.5,0,0.9,0.3,0.6,0.2,0,0.3,0.6,0.2,0.7,0.3,0.5,0.4,0.2],
[0.4,0,0,0,0,0.8,0.5,0.6,0,0,0,0.5,3.3,3.8,2.9,0.9,2.6,0.5,0.3,0.6,0.2,0.4,5.2,0.3,0.5,0.2,0.9,0.4,1.2,0.6,0.4,0.8,0.1],
[0.5,0,0,0,0,0.6,0.4,0.5,0,0,0,1.6,5.4,3.2,1.5,0.6,0.3,0.2,0.7,0.3,0,0.5,0.2,0,0.6,0.3,0.4,0.7,0.3,0.5,1.8,3.5,0.4],
[0.4,0,0,0,0,0.7,0.6,0.4,0,0,0,0.3,4.4,2.4,3.0,1.8,0.6,0.3,0.4,0.9,0.3,0.2,0.4,0.7,0.2,0.4,0.3,0.6,0.9,0.4,0.6,0.3,0.2],
[0.5,0,0,0,0,0.9,0.3,0.8,0,0,0,0.4,2.9,5.1,2.2,1.3,0.5,0.8,0.3,0.4,0.6,0.3,0.2,0.5,4.0,0.2,0.6,0.3,0.8,2.8,0.5,0.4,0.3],
[0.6,0,0,0,0,1.0,0.7,0.6,0,0,0,0.2,13.6,3.4,1.9,2.7,0.6,0.2,1.0,0.3,0.5,0.9,0.3,0.2,0.4,0.6,0.2,0.5,0.4,0.6,0.9,0.5,0.3],
[0.4,0,0,0,0,0.8,0.5,2.0,0.2,0,0,0.3,2.0,4.0,2.5,1.5,0.4,0.6,0.2,0.5,0.3,0.4,0.6,0.3,0.2,0.5,0.3,0.2,13.0,0.5,0.3,0.6,0.2],
[0.5,0,0,0,0,1.1,0.6,0.4,0,0,0,0.4,3.7,2.8,4.1,1.2,0.9,0.3,0.6,0.2,0.4,0.6,0.2,0.4,0.7,0.3,0.5,0.8,0.3,1.4,0.5,0.6,0.4],
[0.4,0,0,0,0,0.7,0.4,0.5,0,0,0,0.3,3.1,0.9,1.7,2.2,0.5,1.4,0.3,0.6,0.2,0.3,0.5,0.2,0.3,0.4,0.6,0.3,0.5,0.8,0.4,0.9,0.3],
[0.3,0,0,0,0,0.6,0.8,0.3,0,0,0,0.5,1.2,2.0,2.4,0.8,0.4,0.2,0.5,0.7,0.3,0.2,0.3,0.6,0.2,0.3,0.4,0.6,1.1,0.3,0.7,0.4,0.2],
[0.5,0,0,0,0,0.9,0.5,0.7,0,0,0,0.6,2.5,3.7,5.3,1.9,0.7,0.5,0.4,6.5,0.6,0.4,0.2,0.3,0.5,0.2,0.3,0.4,0.7,1.0,8.6,0.4,0.3],
[0.4,0,0,0,0,1.2,0.4,0.6,0,0,0,0.4,3.5,3.0,2.6,1.4,0.6,0.4,0.9,0.5,0.3,0.2,0.4,0.3,0.2,0.4,0.5,0.3,1.0,0.6,0.4,0.8,0.2]];

// ---- build ----
var N = 65;
var cats = [];
for (var i = 0; i < N; i++) {
  var h = 18 + 6 * i;
  cats.push((15 + Math.floor(h / 24)) + '/01 ' + (h % 24) + 'Z');
}
function isDay(idx) { return idx % 4 === 1; }
function fromTwoRes(early, late) {
  var d = new Array(N).fill(null);
  early.forEach(function (v, k) { d[k] = v; });
  late.forEach(function (v, k) { d[26 + 2 * k] = v; });
  return d;
}
function from12h(arr) {
  var d = new Array(N).fill(null);
  arr.forEach(function (v, k) { d[2 * k] = v; });
  return d;
}
var plus = 'path://M1,0H2V1H3V2H2V3H1V2H0V1H1Z';
function member(data, color, yIdx) {
  return { type: 'line', xAxisIndex: 0, yAxisIndex: yIdx, data: data, connectNulls: true,
    symbol: plus, symbolSize: 4, showAllSymbol: true, silent: true, z: 3,
    lineStyle: { color: color, width: 1.2 }, itemStyle: { color: color } };
}
function thick(data, color, width, yIdx, z) {
  return { type: 'line', xAxisIndex: 0, yAxisIndex: yIdx, data: data, symbol: 'none', silent: true, z: z,
    lineStyle: { color: color, width: width, join: 'round', cap: 'round' } };
}

var mono = '"DejaVu Sans Mono", monospace';
var series = [];
// heavier horizontal grid lines and the 0°C line
series.push({ type: 'line', xAxisIndex: 0, yAxisIndex: 0, data: new Array(N).fill(null), silent: true, z: 1,
  markLine: { silent: true, symbol: 'none', animation: false, label: { show: false },
    data: thickLevels.map(function (v) { return { yAxis: v, lineStyle: { color: '#c0c0c0', width: 2.5, type: 'solid' } }; })
      .concat([{ yAxis: 0, lineStyle: { color: '#939393', width: 3, type: 'solid' } }]) } });

for (var m = 0; m < 30; m++) {
  series.push(member(fromTwoRes(t850Early[m], t850Late[m]), memberColors[m], 0));
  series.push(member(fromTwoRes(t500Early[m], t500Late[m]), memberColors[m], 0));
  series.push(member(from12h(precipMembers[m]), memberColors[m], 1));
}
series.push(thick(gfs850, '#000000', 3.5, 0, 5));
series.push(thick(gfs500, '#000000', 3.5, 0, 5));
series.push(thick(gfsPrecip, '#000000', 3, 1, 5));
series.push(thick(ctrl850, '#0000ff', 3.5, 0, 6));
series.push(thick(ctrl500, '#0000ff', 3.5, 0, 6));
series.push(thick(ctrlPrecip, '#0000ff', 3, 1, 6));
series.push(thick(mean850, '#ff0000', 5, 0, 7));
series.push(thick(mean500, '#ff0000', 5, 0, 7));
series.push(thick(meanPrecip, '#ff0000', 4.5, 1, 7));

// snow risk strip
series.push({ type: 'bar', xAxisIndex: 1, yAxisIndex: 2, stack: 'snow', barWidth: 10, silent: true,
  data: snowRisk.map(function (v) { return v == null ? null : 50; }),
  itemStyle: { color: '#ccffff' },
  label: { show: true, position: 'top', distance: 2, rotate: 90, align: 'left', verticalAlign: 'middle',
    color: '#0000ff', fontSize: 9, fontFamily: mono,
    formatter: function (p) { return snowRisk[p.dataIndex] + '%'; } } });
series.push({ type: 'bar', xAxisIndex: 1, yAxisIndex: 2, stack: 'snow', barWidth: 10, silent: true,
  data: snowRisk, itemStyle: { color: '#ccffff' } });
series.push({ type: 'scatter', xAxisIndex: 1, yAxisIndex: 2, silent: true, z: 4,
  data: snowRisk.map(function (v) { return v == null ? null : 25; }),
  symbol: 'circle', symbolSize: 10, itemStyle: { color: '#8edcf8' },
  label: { show: true, position: 'inside', formatter: '\u2744', color: '#2a8ad6', fontSize: 11, fontFamily: 'DejaVu Sans' } });

var catAxisBase = { type: 'category', data: cats, boundaryGap: false };
var gridSplit = { show: true, interval: isDay, lineStyle: { color: '#c0c0c0', width: 1.6 } };

function txt(x, y, s, extra) {
  var st = { text: s, fill: '#000', font: '10px ' + mono, textVerticalAlign: 'middle', verticalAlign: 'middle', textAlign: 'left', align: 'left' };
  if (extra) { for (var k in extra) st[k] = extra[k]; }
  return { type: 'text', x: x, y: y, silent: true, style: st };
}
var graphics = [
  // the value axis puts a split line on its top edge; the original has none
  { type: 'rect', silent: true, z: 10, shape: { x: 51, y: 0, width: 638, height: 1.5 }, style: { fill: '#ffffff' } },
  txt(60, 211, 'Temp. 850hPa'),
  txt(60, 389, 'Temp. 500hPa'),
  txt(60, 522, 'Précipitations'),
  txt(20, 607, '(°C)'),
  txt(10, 623, 'Alt. 54m'),
  txt(709, 607, '(mm)'),
  { type: 'rect', silent: true, shape: { x: 36, y: 634.5, width: 29, height: 5 }, style: { fill: '#ff0000' } },
  txt(75, 637, 'Moyenne des scénarios'),
  { type: 'rect', silent: true, shape: { x: 225, y: 634.5, width: 30, height: 5 }, style: { fill: '#0000ff' } },
  txt(265, 637, 'Run de contrôle'),
  { type: 'rect', silent: true, shape: { x: 225, y: 644.5, width: 30, height: 5 }, style: { fill: '#000000' } },
  txt(265, 647, 'Run GFS'),
  txt(340, 652, '30 Perts.'),
  { type: 'circle', silent: true, shape: { cx: 61, cy: 657, r: 5 }, style: { fill: '#8edcf8' } },
  txt(61, 657, '\u2744', { fill: '#2a8ad6', font: '11px "DejaVu Sans"', textAlign: 'center', align: 'center' }),
  txt(75, 658, 'Risque neige'),
  { type: 'rect', silent: true, shape: { x: 20.5, y: 666.5, width: 419.5, height: 32 }, style: { fill: 'none', stroke: '#000', lineWidth: 1.5 } },
  txt(29, 677, 'Diagramme des ensembles GEFS sur 384h pour Istanbul', { font: 'bold 11.4px ' + mono }),
  txt(29, 692, 'Températures 850hPa et 500hPa (°C) , précipitations (mm)'),
  txt(449, 675, 'Ensemble GEFS du 15/01/2022 - 18Z'),
  txt(449, 691.5, 'Copyright 2022 Meteociel.fr', { font: 'bold 11.6px ' + mono })
];
memberColors.forEach(function (c, k) {
  graphics.push({ type: 'rect', silent: true, shape: { x: 400 + 11 * k, y: 650, width: 10, height: 6 }, style: { fill: c } });
  graphics.push(txt(405 + 11 * k, 644, (k < 9 ? '0' : '') + (k + 1), { font: '8px ' + mono, textAlign: 'center', align: 'center' }));
});

var option = {
  animation: false,
  backgroundColor: '#ffffff',
  grid: [
    { left: 50, top: 0, width: 640, height: 545 },
    { left: 50, top: 545, width: 640, height: 55 }
  ],
  xAxis: [
    Object.assign({}, catAxisBase, { gridIndex: 0, axisLine: { show: false }, axisTick: { show: false },
      axisLabel: { show: false }, splitLine: gridSplit }),
    Object.assign({}, catAxisBase, { gridIndex: 1,
      axisLine: { show: true, lineStyle: { color: '#000', width: 1.5 } },
      axisTick: { show: true, interval: isDay, length: 8, lineStyle: { color: '#c0c0c0', width: 1.6 } },
      axisLabel: { show: true, interval: isDay, rotate: 90, margin: 3, color: '#000', fontSize: 10, fontFamily: mono,
        verticalAlign: 'top', lineHeight: 14,
        formatter: function (v, idx) { return dayLabels[(idx - 1) / 4] || ''; } },
      splitLine: gridSplit })
  ],
  yAxis: [
    { type: 'value', gridIndex: 0, min: -45, max: 33.31, interval: 5,
      axisLine: { show: true, lineStyle: { color: '#000', width: 1.5 } }, axisTick: { show: false },
      axisLabel: { align: 'left', margin: 30, color: '#000', fontSize: 10, fontFamily: mono,
        formatter: function (v) { return (v % 5 === 0 && v <= 30) ? String(v) : ''; } },
      splitLine: { show: true, lineStyle: { color: '#c0c0c0', width: 1.5 } } },
    { type: 'value', gridIndex: 0, position: 'right', min: 0, max: 78.31, interval: 5,
      axisLine: { show: true, lineStyle: { color: '#000', width: 1.5 } }, axisTick: { show: false },
      axisLabel: { align: 'left', margin: 19, color: '#000', fontSize: 10, fontFamily: mono,
        formatter: function (v) { return (v % 5 === 0 && v <= 75) ? String(v) : ''; } },
      splitLine: { show: false } },
    { type: 'value', gridIndex: 1, min: -29.2, max: 200,
      axisLine: { show: true, lineStyle: { color: '#000', width: 1.5 } }, axisTick: { show: false },
      axisLabel: { show: false }, splitLine: { show: false } },
    { type: 'value', gridIndex: 1, position: 'right', min: -29.2, max: 200,
      axisLine: { show: true, lineStyle: { color: '#000', width: 1.5 } }, axisTick: { show: false },
      axisLabel: { show: false }, splitLine: { show: false } }
  ],
  series: series,
  graphic: { elements: graphics }
};

var chart = echarts.init(document.getElementById('chart'));
chart.setOption(option);
</script>
</body>
</html>
